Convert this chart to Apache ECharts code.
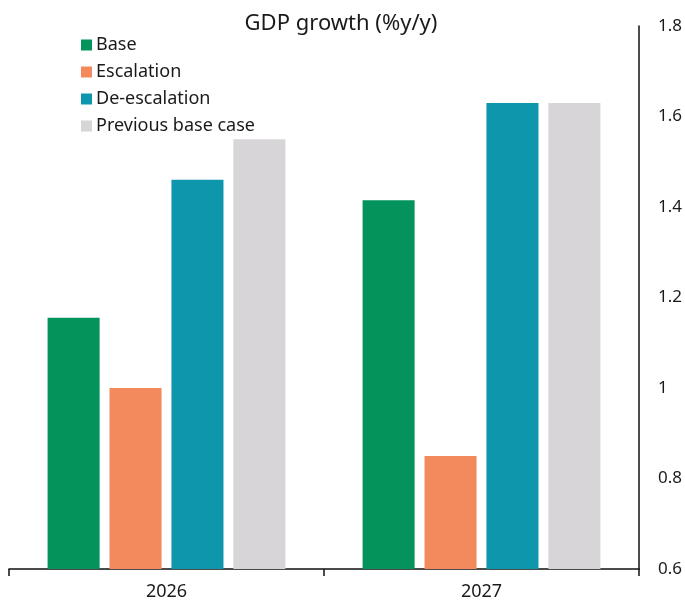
<!DOCTYPE html>
<html>
<head>
<meta charset="utf-8">
<script src="https://cdn.jsdelivr.net/npm/echarts@6/dist/echarts.min.js"></script>
<style>
  html, body { margin: 0; padding: 0; background: #fff; }
  #chart { width: 685px; height: 601px; }
</style>
</head>
<body>
<div id="chart"></div>
<script>
// GDP growth scenarios, % y/y
const years = ['2026', '2027'];
const base = [1.155, 1.415];
const escalation = [1.0, 0.85];
const deEscalation = [1.46, 1.63];
const previousBase = [1.55, 1.63];
const yTicks = [0.6, 0.8, 1.0, 1.2, 1.4, 1.6, 1.8];

const FONT = '"Noto Sans", sans-serif';
const seriesDefs = [
  { name: 'Base', data: base, color: '#03935B' },
  { name: 'Escalation', data: escalation, color: '#F28A5E' },
  { name: 'De-escalation', data: deEscalation, color: '#0D96AC' },
  { name: 'Previous base case', data: previousBase, color: '#D7D5D7' }
];

const chart = echarts.init(document.getElementById('chart'), null, { renderer: 'canvas' });
chart.setOption({
  animation: false,
  backgroundColor: '#ffffff',
  textStyle: { fontFamily: FONT },
  title: {
    text: 'GDP growth (%y/y)',
    left: 336,
    textAlign: 'center',
    top: 8,
    textStyle: { fontFamily: FONT, fontSize: 22, fontWeight: 'normal', color: '#1a1a1a' }
  },
  legend: {
    orient: 'vertical',
    left: 76,
    top: 31,
    itemWidth: 11,
    itemHeight: 11,
    itemGap: 9,
    icon: 'rect',
    textStyle: { fontFamily: FONT, fontSize: 18, color: '#1a1a1a', padding: [0, 0, 0, -1] },
    data: seriesDefs.map(s => s.name)
  },
  grid: { left: 9, right: 45, top: 26, bottom: 32, containLabel: false },
  xAxis: {
    type: 'category',
    data: years,
    axisLine: { lineStyle: { color: '#111', width: 1.5 } },
    axisTick: { show: true, alignWithLabel: false, length: 7, lineStyle: { color: '#111', width: 1.5 } },
    axisLabel: { fontFamily: FONT, fontSize: 18, color: '#1a1a1a', margin: 14 }
  },
  yAxis: {
    type: 'value',
    position: 'right',
    min: yTicks[0],
    max: yTicks[yTicks.length - 1],
    interval: 0.2,
    axisLine: { show: true, lineStyle: { color: '#111', width: 1.5 } },
    axisTick: { show: false },
    splitLine: { show: false },
    axisLabel: {
      fontFamily: FONT, fontSize: 17, color: '#1a1a1a', margin: 19,
      formatter: v => (Math.abs(v - 1) < 1e-9 ? '1' : (+v.toFixed(1)).toString())
    }
  },
  series: seriesDefs.map(s => ({
    name: s.name,
    type: 'bar',
    data: s.data,
    barGap: '19%',
    barCategoryGap: '24.5%',
    itemStyle: { color: s.color }
  }))
});
</script>
</body>
</html>
